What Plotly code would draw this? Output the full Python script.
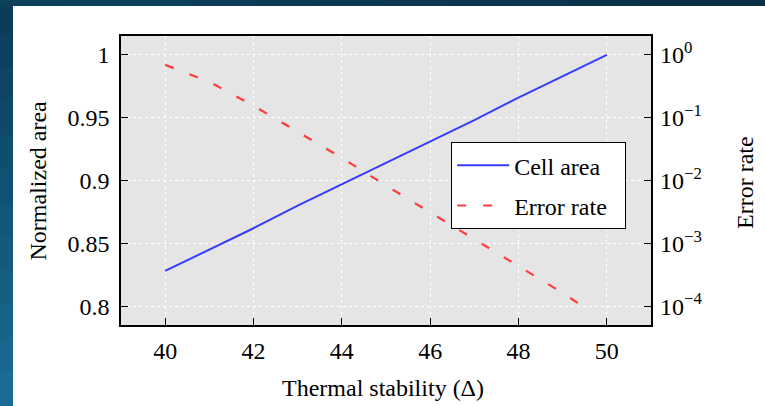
import plotly.graph_objects as go

# ---- data ----
delta_area = [40, 41, 42, 43, 44, 45, 46, 47, 48, 49, 50]
cell_area = [0.828, 0.845, 0.862, 0.880, 0.897, 0.914, 0.931, 0.948, 0.966, 0.983, 1.0]

delta_err = [40, 41, 42, 43, 44, 45, 46, 47, 48, 49, 49.45]
error_rate = [0.692, 0.372, 0.155, 0.0603, 0.0229, 0.00832, 0.00309, 0.00117, 4.37e-4, 1.62e-4, 1.0e-4]

x_ticks = [40, 42, 44, 46, 48, 50]
y_ticks = [0.8, 0.85, 0.9, 0.95, 1]
y_ticklabels = ["0.8", "0.85", "0.9", "0.95", "1"]
err_ticks = [1, 0.1, 0.01, 0.001, 0.0001]
err_ticklabels = ["10<sup>0</sup>", "10<sup>\u22121</sup>", "10<sup>\u22122</sup>",
                  "10<sup>\u22123</sup>", "10<sup>\u22124</sup>"]

FONT = "Liberation Serif"
FS = 24

fig = go.Figure()
fig.add_trace(go.Scatter(x=delta_area, y=cell_area, mode="lines", name="Cell area\u2002",
                         legendgroup="a",
                         line=dict(color="#3b3bff", width=2), yaxis="y"))
fig.add_trace(go.Scatter(x=delta_err, y=error_rate, mode="lines", name="Error rate\u2002",
                         legendgroup="b",
                         line=dict(color="#ff3b3b", width=2.2, dash="9px,17px"), yaxis="y2"))

# page background strips (slide frame)
L, R, T, B = 121, 114, 36, 81
W, H = 765, 406
pw, ph = W - L - R, H - T - B
def px(xp):
    return (xp - L) / pw
def py(yp):
    return (H - B - yp) / ph

shapes = []
n = 12
top_c = (11, 58, 87)
bot_c = (28, 110, 150)
for i in range(n):
    f = (i + 0.5) / n
    c = tuple(int(top_c[k] + (bot_c[k] - top_c[k]) * f) for k in range(3))
    col = "rgb(%d,%d,%d)" % c
    shapes.append(dict(type="rect", xref="paper", yref="paper",
                       x0=px(0), x1=px(13), y0=py(H * i / n), y1=py(H * (i + 1) / n + 1),
                       fillcolor=col, line=dict(width=0), layer="below"))
l_c = (13, 66, 96)
r_c = (10, 46, 68)
for i in range(n):
    f = (i + 0.5) / n
    c = tuple(int(l_c[k] + (r_c[k] - l_c[k]) * f) for k in range(3))
    col = "rgb(%d,%d,%d)" % c
    shapes.append(dict(type="rect", xref="paper", yref="paper",
                       x0=px(W * i / n), x1=px(W * (i + 1) / n + 1), y0=py(6), y1=py(0),
                       fillcolor=col, line=dict(width=0), layer="below"))

axis_common = dict(showline=True, linecolor="black", linewidth=1.6,
                   ticks="inside", ticklen=7, tickwidth=1.4, tickcolor="black",
                   tickfont=dict(family=FONT, size=FS, color="black"),
                   zeroline=False)

fig.update_layout(
    width=W, height=H,
    margin=dict(l=L, r=R, t=T, b=B, pad=0),
    paper_bgcolor="white",
    plot_bgcolor="#e5e5e5",
    font=dict(family=FONT, size=FS, color="black"),
    showlegend=True,
    shapes=shapes,
    xaxis=dict(range=[39, 51], tickvals=x_ticks, mirror=True,
               showgrid=True, gridcolor="white", gridwidth=1, griddash="dot",
               ticklabelstandoff=3, **axis_common),
    yaxis=dict(range=[0.785, 1.015], tickvals=y_ticks, ticktext=y_ticklabels, mirror=True,
               showgrid=True, gridcolor="white", gridwidth=1, griddash="dot",
               ticklabelstandoff=5, **axis_common),
    yaxis2=dict(type="log", range=[-4.3, 0.3], tickvals=err_ticks, ticktext=err_ticklabels,
                overlaying="y", side="right", showgrid=False,
                ticklabelstandoff=8,
                **{**axis_common, "showline": False}),
    legend=dict(x=px(451), y=py(142), xanchor="left", yanchor="top",
                bgcolor="white", bordercolor="black", borderwidth=1.2,
                font=dict(family=FONT, size=FS, color="black"),
                itemwidth=52, tracegroupgap=6),
    annotations=[
        dict(text="Thermal stability (\u0394)", xref="paper", yref="paper",
             x=px(383), y=py(388), xanchor="center", yanchor="middle",
             showarrow=False, font=dict(family=FONT, size=FS, color="black")),
        dict(text="Normalized area", xref="paper", yref="paper",
             x=px(37.5), y=py(181), xanchor="center", yanchor="middle", textangle=-90,
             showarrow=False, font=dict(family=FONT, size=FS, color="black")),
        dict(text="Error rate", xref="paper", yref="paper",
             x=px(744.5), y=py(182.5), xanchor="center", yanchor="middle", textangle=-90,
             showarrow=False, font=dict(family=FONT, size=FS, color="black")),
    ],
)

fig.write_html("out.html", config={"displayModeBar": False},
               post_script="document.body.style.margin='0';document.body.style.padding='0';")
